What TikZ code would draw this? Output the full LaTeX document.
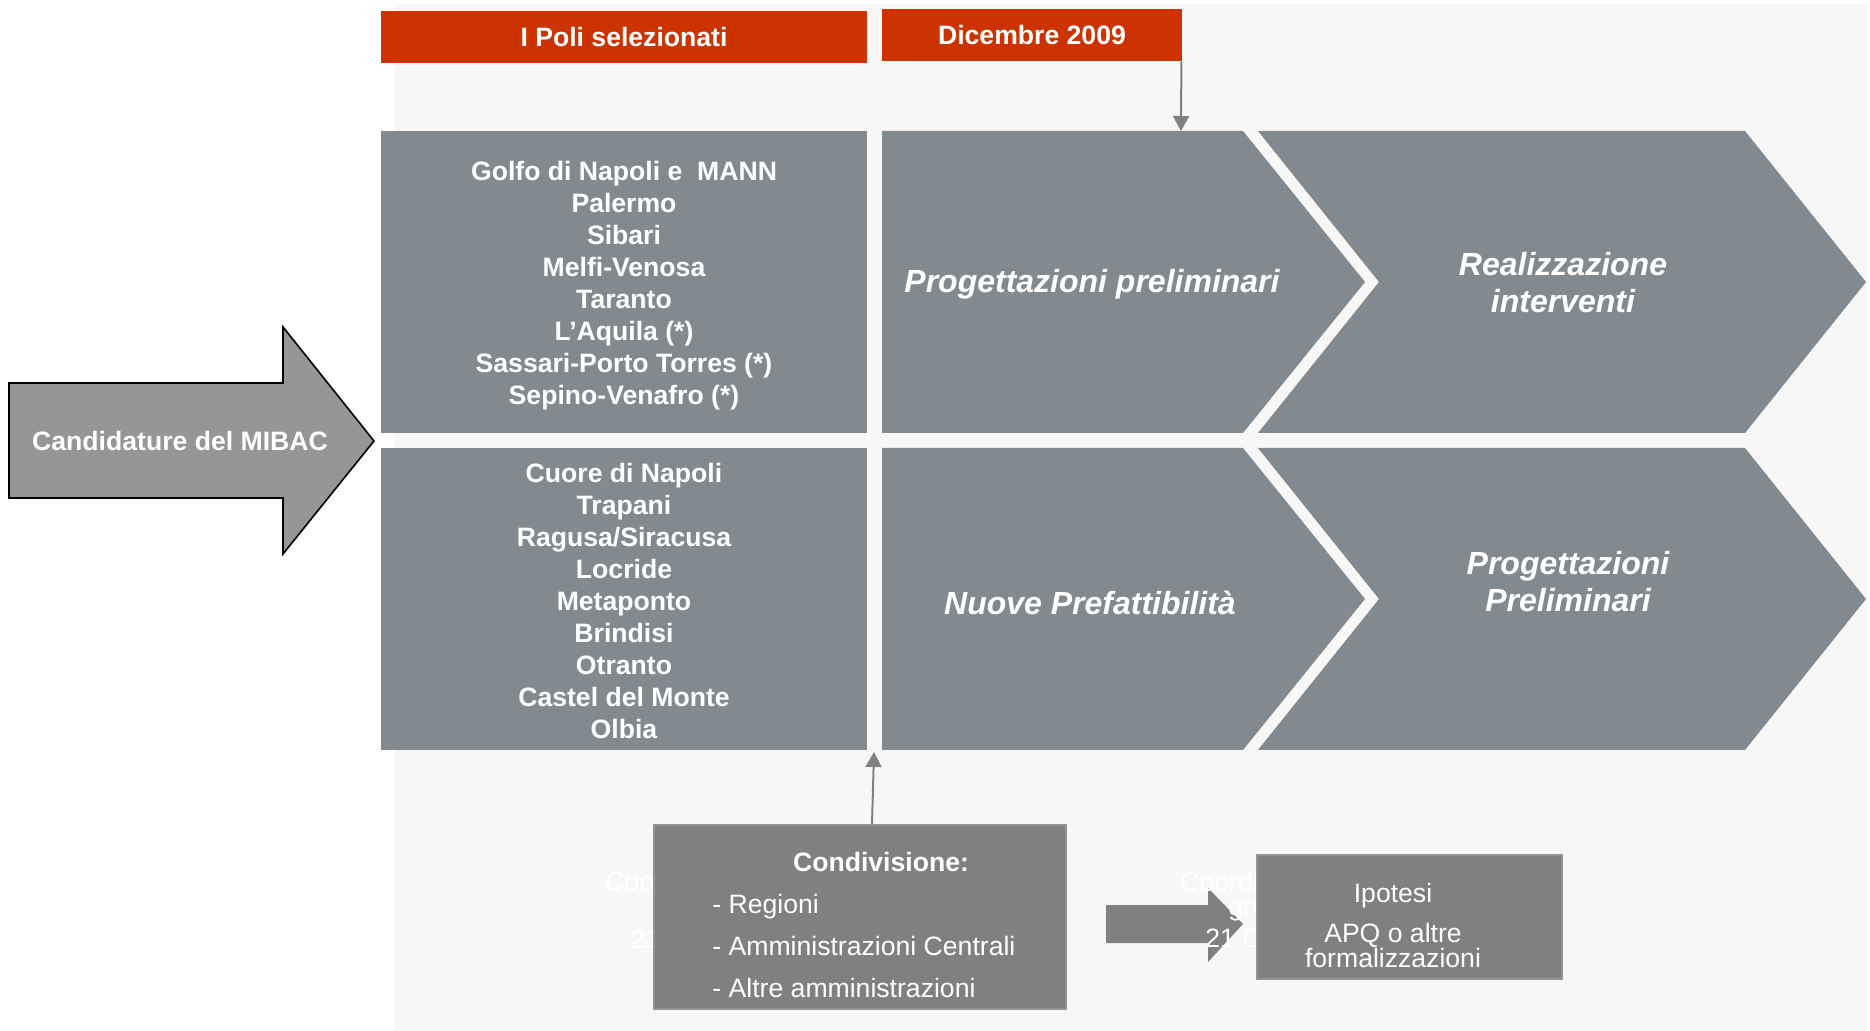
\documentclass[tikz,border=0pt]{standalone}
\usepackage{fontspec}
\setmainfont{Liberation Sans}
\usetikzlibrary{arrows.meta}

\definecolor{panelbg}{HTML}{F7F7F7}
\definecolor{polired}{HTML}{CC3300}
\definecolor{polegray}{HTML}{838A8F}
\definecolor{boxgray}{HTML}{808080}
\definecolor{arrowgray}{HTML}{969696}

\begin{document}
\begin{tikzpicture}[x=0.5pt,y=-0.5pt,
  redbox/.style={fill=polired,text=white,inner sep=0pt,font=\fontsize{13.3pt}{16pt}\selectfont\bfseries},
  polebox/.style={fill=polegray,inner sep=0pt,minimum width=243pt,minimum height=151pt},
  polelist/.style={text=white,align=center,font=\fontsize{13.3pt}{16pt}\selectfont\bfseries},
  phase/.style={text=white,align=center,font=\fontsize{16pt}{18.5pt}\selectfont\bfseries\itshape},
  greybox/.style={fill=boxgray,draw=boxgray!85!white,line width=0.6pt,inner sep=0pt},
  plain/.style={text=white,font=\fontsize{13.3pt}{16pt}\selectfont},
  ghost/.style={text=white,anchor=west,inner sep=0pt,font=\fontsize{13.3pt}{16pt}\selectfont},
  conn/.style={draw=boxgray,line width=1pt,-{Triangle[width=8pt,length=7.5pt]}}]
\useasboundingbox (0,0) rectangle (1870,1031);
\fill[panelbg] (395,4) rectangle (1867,1031);

% intestazioni
\node[redbox,minimum width=243pt,minimum height=26pt] (poli) at (624,37) {I Poli selezionati};
\node[redbox,minimum width=150pt,minimum height=26pt] (dic) at (1032,35) {Dicembre 2009};

% elenchi dei poli
\node[polebox] (sel) at (624,282) {};
\node[polebox] (nuovi) at (624,599) {};
\node[polelist] (selt) at (624,286) {Golfo di Napoli e~ MANN\\Palermo\\Sibari\\Melfi-Venosa\\Taranto\\L’Aquila (*)\\Sassari-Porto Torres (*)\\Sepino-Venafro (*)};
\node[polelist] (nuovit) at (624,601) {Cuore di Napoli\\Trapani\\Ragusa/Siracusa\\Locride\\Metaponto\\Brindisi\\Otranto\\Castel del Monte\\Olbia};

% fasi
\fill[polegray] (882,131) -- (1243,131) -- (1365,282) -- (1243,433) -- (882,433) -- cycle;
\fill[polegray] (1258,131) -- (1745,131) -- (1866,282) -- (1745,433) -- (1258,433) -- (1379,282) -- cycle;
\fill[polegray] (882,448) -- (1243,448) -- (1365,599) -- (1243,750) -- (882,750) -- cycle;
\fill[polegray] (1258,448) -- (1745,448) -- (1866,599) -- (1745,750) -- (1258,750) -- (1379,599) -- cycle;
\node[phase] (prog) at (1092,284) {Progettazioni preliminari};
\node[phase] (real) at (1563,283) {Realizzazione\\interventi};
\node[phase] (pref) at (1090,603) {Nuove Prefattibilità};
\node[phase] (prel) at (1568,582) {Progettazioni\\Preliminari};
\coordinate (progtop) at (1181,131);

% candidature
\draw[fill=arrowgray,line width=0.8pt] (9,383) -- (283,383) -- (283,327) -- (374,441) -- (283,554) -- (283,498) -- (9,498) -- cycle;
\node[text=white,font=\fontsize{13.3pt}{16pt}\selectfont\bfseries] (cand) at (180,441) {Candidature del MIBAC};

% condivisione
\node[ghost] (coo) at (605,881) {Coo};
\node[ghost] (dataA) at (630,939) {21};
\node[greybox,minimum width=206pt,minimum height=92pt] (cond) at (860,917) {};
\node[plain,font=\fontsize{13.3pt}{16pt}\selectfont\bfseries] (condt) at (881,862) {Condivisione:};
\node[plain,align=left,anchor=west,inner sep=0pt,font=\fontsize{13.3pt}{21pt}\selectfont] (condl) at (712,946) {- Regioni\\- Amministrazioni Centrali\\- Altre amministrazioni};
\coordinate (selbot) at (874,752);

% ipotesi
\fill[boxgray] (1106,905) -- (1208,905) -- (1208,888) -- (1243,924) -- (1208,962) -- (1208,943) -- (1106,943) -- cycle;
\node[ghost] (coordi) at (1180,882) {Coordin};
\node[ghost] (gru) at (1228,911) {grup};
\node[ghost] (dataB) at (1205,938) {21 Ot};
\node[greybox,minimum width=152.5pt,minimum height=62pt] (ipo) at (1409.5,917) {};
\node[plain,align=center,font=\fontsize{13.3pt}{12.5pt}\selectfont] (ipot) at (1393,925) {Ipotesi\\[7.5pt]APQ o altre\\formalizzazioni};

% frecce
\draw[conn] ([xshift=-0.5pt]dic.south east) -- (progtop);
\draw[conn] ([xshift=6pt]cond.north) -- (selbot);
\end{tikzpicture}
\end{document}
